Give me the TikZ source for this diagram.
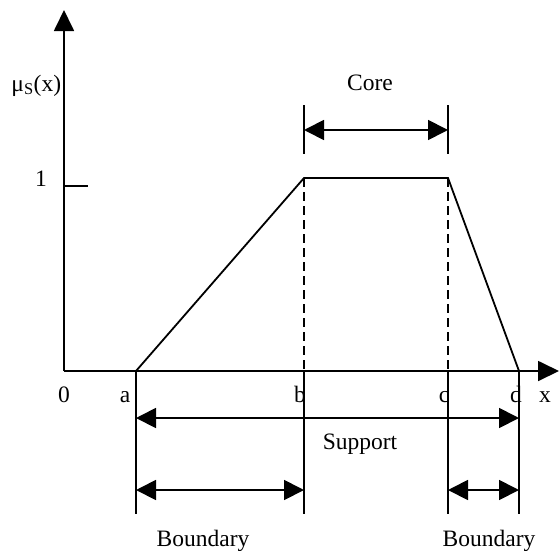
\documentclass[tikz,border=0pt]{standalone}
\usepackage{fontspec}
\setmainfont{Liberation Serif}
\usetikzlibrary{arrows.meta,positioning,calc}

\begin{document}
\begin{tikzpicture}[
  x=1pt, y=-1pt,
  font=\fontsize{23.5}{27}\selectfont,
  line width=1.8pt,
  axis/.style={-{Triangle[length=21pt,width=20pt]}},
  span/.style={{Triangle[length=20pt,width=20pt]}-{Triangle[length=20pt,width=20pt]}},
  guide/.style={dash pattern=on 9pt off 5pt},
  lbl/.style={inner sep=0pt, anchor=base}
]
\useasboundingbox (0,0) rectangle (559,550);
\coordinate (o) at (64,371);
\coordinate (ytop) at (64,10);
\coordinate (xend) at (559,371);
\coordinate (pa) at (136,371);
\coordinate (pb) at (304,178);
\coordinate (pc) at (448,178);
\coordinate (pd) at (519,371);
\coordinate (bb) at (304,371);
\coordinate (bc) at (448,371);
\coordinate (fa) at (136,514);
\coordinate (fb) at (304,514);
\coordinate (fc) at (448,514);
\coordinate (fd) at (519,514);
\coordinate (cb1) at (304,105);
\coordinate (cb2) at (304,154);
\coordinate (cc1) at (448,105);
\coordinate (cc2) at (448,154);
\coordinate (tick1) at (64,186);
\coordinate (tick2) at (88,186);
\coordinate (sa) at (136,418);
\coordinate (sd) at (519,418);
\coordinate (ba) at (136,490);
\coordinate (bbd) at (304,490);
\coordinate (bcd) at (448,490);
\coordinate (bd) at (519,490);
\draw[axis] (o) -- (ytop);
\draw[axis] (o) -- (xend);
\draw (tick1) -- (tick2);
\draw (pa) -- (pb) -- (pc) -- (pd);
\draw[guide] (pb) -- (bb);
\draw[guide] (pc) -- (bc);
\draw (pa) -- (fa);
\draw (bb) -- (fb);
\draw (bc) -- (fc);
\draw (pd) -- (fd);
\draw (cb1) -- (cb2);
\draw (cc1) -- (cc2);
\draw[span] ($(cb1)!0.51!(cb2)$) -- ($(cc1)!0.51!(cc2)$);
\draw[span] (sa) -- (sd);
\draw[span] (ba) -- (bbd);
\draw[span] (bcd) -- (bd);
\node[lbl, anchor=base east] (mu) at (62,91) {μ\textsubscript{S}(x)};
\node[lbl] (one) at (41,186) {1};
\node[lbl] (zero) at (64,402) {0};
\node[lbl] (la) at (125,402) {a};
\node[lbl] (lb) at (300,402) {b};
\node[lbl] (lc) at (444,402) {c};
\node[lbl] (ld) at (516,402) {d};
\node[lbl] (lx) at (545,402) {x};
\node[lbl] (core) at (370,90) {Core};
\node[lbl] (support) at (360,449) {Support};
\node[lbl] (bnd1) at (203,546) {Boundary};
\node[lbl] (bnd2) at (489,546) {Boundary};
\end{tikzpicture}
\end{document}
